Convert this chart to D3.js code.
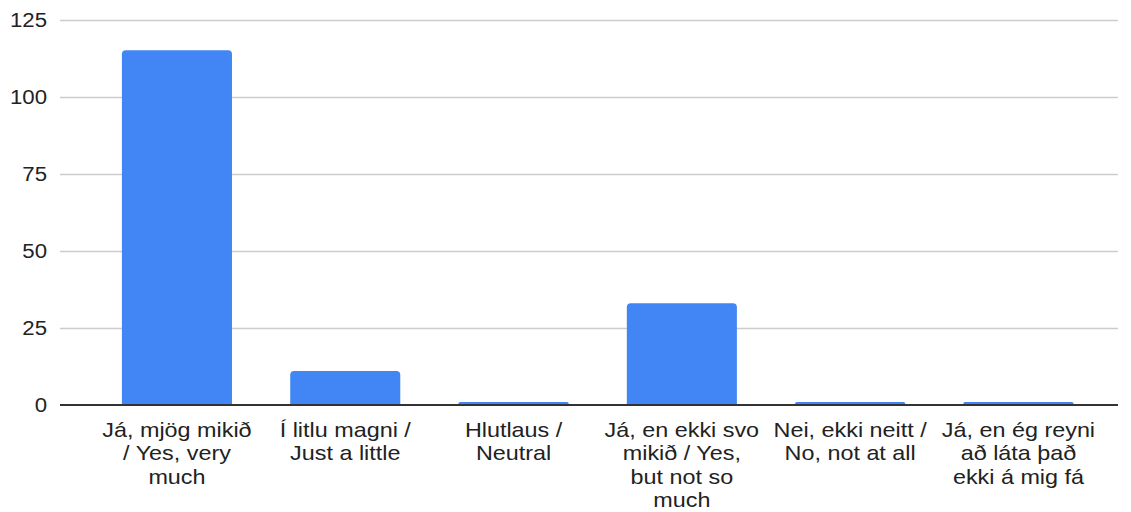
<!DOCTYPE html>
<html>
<head>
<meta charset="utf-8">
<script src="https://cdn.jsdelivr.net/npm/d3@7"></script>
<style>
  body { margin: 0; background: #fff; }
  text { font-family: "Liberation Sans", Arial, sans-serif; fill: #222; }
</style>
</head>
<body>
<div id="chart"></div>
<script>
(function () {

    var categories = [
        'Já, mjög mikið\n/ Yes, very\nmuch',
        'Í litlu magni /\nJust a little',
        'Hlutlaus /\nNeutral',
        'Já, en ekki svo\nmikið / Yes,\nbut not so\nmuch',
        'Nei, ekki neitt /\nNo, not at all',
        'Já, en ég reyni\nað láta það\nekki á mig fá'
    ]
    var counts = [115, 11, 1, 33, 1, 1]
    var yTicks = [0, 25, 50, 75, 100, 125]

    var width = 1131, height = 512
    var stretch = 1.14   // text in the picture is a bit wider than tall

    var svg = d3.select('#chart')
        .append('svg')
        .attr('width', width)
        .attr('height', height)

    var x = d3.scaleBand()
        .domain(categories)
        .range([92.8, 1102.6])
        .paddingInner(0.346)
        .paddingOuter(0.173)

    var y = d3.scaleLinear()
        .domain([0, 125])
        .range([405, 19.5])

    // gridlines
    svg.append('g')
        .selectAll('line')
        .data(yTicks.filter(function (d) { return d > 0 }))
        .enter().append('line')
        .attr('x1', 60)
        .attr('x2', 1118)
        .attr('y1', function (d) { return Math.round(y(d)) + 0.5 })
        .attr('y2', function (d) { return Math.round(y(d)) + 0.5 })
        .attr('stroke', '#cccccc')
        .attr('stroke-width', 1.3)

    // y tick labels
    svg.append('g')
        .selectAll('g')
        .data(yTicks)
        .enter().append('g')
        .attr('transform', function (d) { return 'translate(47,' + y(d) + ') scale(' + stretch + ',1)' })
        .append('text')
        .attr('text-anchor', 'end')
        .attr('dy', '0.36em')
        .style('font-size', '19.5px')
        .text(function (d) { return d })

    // bars with rounded top corners
    function barPath(x0, y0, w, h) {
        var r = Math.min(4, h / 2, w / 2)
        return 'M' + x0 + ',' + (y0 + h) +
            'V' + (y0 + r) +
            'Q' + x0 + ',' + y0 + ' ' + (x0 + r) + ',' + y0 +
            'H' + (x0 + w - r) +
            'Q' + (x0 + w) + ',' + y0 + ' ' + (x0 + w) + ',' + (y0 + r) +
            'V' + (y0 + h) + 'Z'
    }

    svg.append('g')
        .selectAll('path')
        .data(counts)
        .enter().append('path')
        .attr('fill', '#4285f4')
        .attr('d', function (d, i) {
            var bx = x(categories[i])
            return barPath(bx, y(d), x.bandwidth(), y(0) - y(d))
        })

    // zero line
    svg.append('line')
        .attr('x1', 60)
        .attr('x2', 1118)
        .attr('y1', y(0))
        .attr('y2', y(0))
        .attr('stroke', '#333333')
        .attr('stroke-width', 2)

    // category labels
    var labels = svg.append('g')
        .selectAll('g')
        .data(categories)
        .enter().append('g')
        .attr('transform', function (d) {
            return 'translate(' + (x(d) + x.bandwidth() / 2) + ',437) scale(' + stretch + ',1)'
        })

    labels.each(function (d) {
        var g = d3.select(this)
        d.split('\n').forEach(function (line, j) {
            g.append('text')
                .attr('text-anchor', 'middle')
                .attr('y', j * 23.5)
                .style('font-size', '20.5px')
                .text(line)
        })
    })

})()
</script>
</body>
</html>
